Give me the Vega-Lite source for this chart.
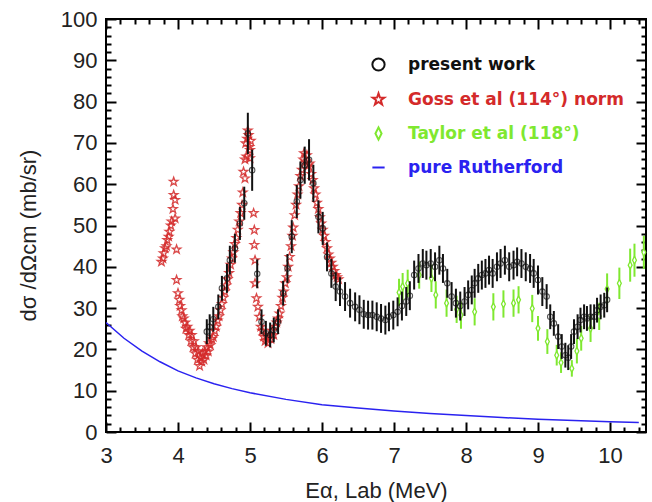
{
  "$schema": "https://vega.github.io/schema/vega-lite/v6.json",
  "autosize": {"type": "none"},
  "width": 540,
  "height": 413,
  "padding": {"left": 106, "top": 19, "right": 6, "bottom": 70},
  "background": "white",
  "config": {
    "view": {"stroke": "black", "strokeWidth": 2},
    "font": "Liberation Sans",
    "axis": {"domain": false, "grid": false, "tickColor": "black", "tickWidth": 2, "labelColor": "#222", "titleColor": "#222"}
  },
  "datasets": {
    "pw": [
      {"s": "present work", "E": 4.40, "v": 24.3, "e": 3},
      {"s": "present work", "E": 4.44, "v": 25.5, "e": 3},
      {"s": "present work", "E": 4.49, "v": 27.3, "e": 3},
      {"s": "present work", "E": 4.56, "v": 30.3, "e": 3},
      {"s": "present work", "E": 4.61, "v": 34.8, "e": 3},
      {"s": "present work", "E": 4.68, "v": 37.2, "e": 3.5},
      {"s": "present work", "E": 4.72, "v": 41.6, "e": 3.5},
      {"s": "present work", "E": 4.79, "v": 44.5, "e": 3.5},
      {"s": "present work", "E": 4.86, "v": 50.5, "e": 4},
      {"s": "present work", "E": 4.92, "v": 55.4, "e": 4},
      {"s": "present work", "E": 4.97, "v": 72.3, "e": 5},
      {"s": "present work", "E": 5.03, "v": 63.4, "e": 5},
      {"s": "present work", "E": 5.10, "v": 38.3, "e": 3.5},
      {"s": "present work", "E": 5.16, "v": 26.7, "e": 3},
      {"s": "present work", "E": 5.22, "v": 23.9, "e": 3},
      {"s": "present work", "E": 5.28, "v": 23.5, "e": 3},
      {"s": "present work", "E": 5.33, "v": 24.7, "e": 3},
      {"s": "present work", "E": 5.39, "v": 26.7, "e": 3},
      {"s": "present work", "E": 5.46, "v": 33.6, "e": 3},
      {"s": "present work", "E": 5.52, "v": 39.6, "e": 3.5},
      {"s": "present work", "E": 5.58, "v": 47.3, "e": 4},
      {"s": "present work", "E": 5.65, "v": 55.8, "e": 4},
      {"s": "present work", "E": 5.70, "v": 61.0, "e": 4.5},
      {"s": "present work", "E": 5.76, "v": 64.6, "e": 4.5},
      {"s": "present work", "E": 5.82, "v": 65.9, "e": 5},
      {"s": "present work", "E": 5.88, "v": 60.2, "e": 4.5},
      {"s": "present work", "E": 5.95, "v": 52.1, "e": 4},
      {"s": "present work", "E": 6.01, "v": 49.3, "e": 4},
      {"s": "present work", "E": 6.07, "v": 42.4, "e": 3.5},
      {"s": "present work", "E": 6.13, "v": 38.4, "e": 3.5},
      {"s": "present work", "E": 6.19, "v": 35.2, "e": 3.5},
      {"s": "present work", "E": 6.25, "v": 34.0, "e": 3.5},
      {"s": "present work", "E": 6.32, "v": 32.8, "e": 3.5},
      {"s": "present work", "E": 6.39, "v": 31.2, "e": 3.5},
      {"s": "present work", "E": 6.46, "v": 30.3, "e": 3.5},
      {"s": "present work", "E": 6.52, "v": 29.6, "e": 3.5},
      {"s": "present work", "E": 6.58, "v": 28.5, "e": 3.5},
      {"s": "present work", "E": 6.64, "v": 28.3, "e": 3.5},
      {"s": "present work", "E": 6.70, "v": 28.3, "e": 3.5},
      {"s": "present work", "E": 6.76, "v": 27.9, "e": 3.5},
      {"s": "present work", "E": 6.82, "v": 27.5, "e": 3.5},
      {"s": "present work", "E": 6.88, "v": 27.1, "e": 3.5},
      {"s": "present work", "E": 6.93, "v": 27.9, "e": 3.5},
      {"s": "present work", "E": 6.99, "v": 28.3, "e": 3.5},
      {"s": "present work", "E": 7.05, "v": 29.1, "e": 3.5},
      {"s": "present work", "E": 7.11, "v": 30.5, "e": 3.5},
      {"s": "present work", "E": 7.17, "v": 31.6, "e": 3.5},
      {"s": "present work", "E": 7.22, "v": 33.0, "e": 3.5},
      {"s": "present work", "E": 7.28, "v": 38.0, "e": 3.5},
      {"s": "present work", "E": 7.34, "v": 39.6, "e": 3.5},
      {"s": "present work", "E": 7.40, "v": 40.8, "e": 3.5},
      {"s": "present work", "E": 7.45, "v": 40.4, "e": 3.5},
      {"s": "present work", "E": 7.51, "v": 40.8, "e": 3.5},
      {"s": "present work", "E": 7.57, "v": 40.0, "e": 3.5},
      {"s": "present work", "E": 7.63, "v": 41.6, "e": 3.5},
      {"s": "present work", "E": 7.68, "v": 39.6, "e": 3.5},
      {"s": "present work", "E": 7.74, "v": 36.0, "e": 3.5},
      {"s": "present work", "E": 7.80, "v": 32.8, "e": 3.5},
      {"s": "present work", "E": 7.86, "v": 31.2, "e": 3.5},
      {"s": "present work", "E": 7.92, "v": 30.5, "e": 3.5},
      {"s": "present work", "E": 7.98, "v": 31.6, "e": 3.5},
      {"s": "present work", "E": 8.03, "v": 33.2, "e": 3.5},
      {"s": "present work", "E": 8.08, "v": 34.4, "e": 3.5},
      {"s": "present work", "E": 8.12, "v": 36.0, "e": 3.5},
      {"s": "present work", "E": 8.17, "v": 37.2, "e": 3.5},
      {"s": "present work", "E": 8.22, "v": 38.0, "e": 3.5},
      {"s": "present work", "E": 8.27, "v": 38.4, "e": 3.5},
      {"s": "present work", "E": 8.32, "v": 39.2, "e": 3.5},
      {"s": "present work", "E": 8.37, "v": 38.4, "e": 3.5},
      {"s": "present work", "E": 8.43, "v": 40.0, "e": 3.5},
      {"s": "present work", "E": 8.48, "v": 40.8, "e": 3.5},
      {"s": "present work", "E": 8.54, "v": 41.6, "e": 3.5},
      {"s": "present work", "E": 8.60, "v": 40.0, "e": 3.5},
      {"s": "present work", "E": 8.66, "v": 40.4, "e": 3.5},
      {"s": "present work", "E": 8.71, "v": 41.2, "e": 3.5},
      {"s": "present work", "E": 8.77, "v": 40.8, "e": 3.5},
      {"s": "present work", "E": 8.83, "v": 40.0, "e": 3.5},
      {"s": "present work", "E": 8.89, "v": 39.6, "e": 3.5},
      {"s": "present work", "E": 8.94, "v": 38.4, "e": 3.5},
      {"s": "present work", "E": 9.00, "v": 36.8, "e": 3.5},
      {"s": "present work", "E": 9.06, "v": 34.0, "e": 3.5},
      {"s": "present work", "E": 9.12, "v": 32.8, "e": 3},
      {"s": "present work", "E": 9.17, "v": 27.9, "e": 3},
      {"s": "present work", "E": 9.22, "v": 26.3, "e": 3},
      {"s": "present work", "E": 9.28, "v": 23.1, "e": 3},
      {"s": "present work", "E": 9.33, "v": 20.7, "e": 3},
      {"s": "present work", "E": 9.38, "v": 18.6, "e": 3},
      {"s": "present work", "E": 9.42, "v": 18.0, "e": 3},
      {"s": "present work", "E": 9.46, "v": 20.7, "e": 3},
      {"s": "present work", "E": 9.50, "v": 24.3, "e": 3},
      {"s": "present work", "E": 9.55, "v": 25.5, "e": 3},
      {"s": "present work", "E": 9.59, "v": 27.1, "e": 3},
      {"s": "present work", "E": 9.64, "v": 27.9, "e": 3},
      {"s": "present work", "E": 9.68, "v": 27.5, "e": 3},
      {"s": "present work", "E": 9.73, "v": 27.9, "e": 3},
      {"s": "present work", "E": 9.78, "v": 27.9, "e": 3},
      {"s": "present work", "E": 9.82, "v": 29.5, "e": 3},
      {"s": "present work", "E": 9.87, "v": 30.3, "e": 3},
      {"s": "present work", "E": 9.92, "v": 30.7, "e": 3},
      {"s": "present work", "E": 9.96, "v": 32.0, "e": 3}
    ],
    "goss": [
      {"s": "Goss et al (114°) norm", "E": 3.77, "v": 41.2},
      {"s": "Goss et al (114°) norm", "E": 3.79, "v": 42.0},
      {"s": "Goss et al (114°) norm", "E": 3.80, "v": 43.3},
      {"s": "Goss et al (114°) norm", "E": 3.82, "v": 44.5},
      {"s": "Goss et al (114°) norm", "E": 3.84, "v": 45.0},
      {"s": "Goss et al (114°) norm", "E": 3.85, "v": 46.5},
      {"s": "Goss et al (114°) norm", "E": 3.87, "v": 47.3},
      {"s": "Goss et al (114°) norm", "E": 3.88, "v": 48.5},
      {"s": "Goss et al (114°) norm", "E": 3.90, "v": 50.0},
      {"s": "Goss et al (114°) norm", "E": 3.91, "v": 51.0},
      {"s": "Goss et al (114°) norm", "E": 3.93, "v": 54.0},
      {"s": "Goss et al (114°) norm", "E": 3.94, "v": 57.4},
      {"s": "Goss et al (114°) norm", "E": 3.94, "v": 60.6},
      {"s": "Goss et al (114°) norm", "E": 3.96, "v": 56.2},
      {"s": "Goss et al (114°) norm", "E": 3.96, "v": 51.7},
      {"s": "Goss et al (114°) norm", "E": 3.98, "v": 44.2},
      {"s": "Goss et al (114°) norm", "E": 3.98, "v": 36.8},
      {"s": "Goss et al (114°) norm", "E": 4.00, "v": 33.6},
      {"s": "Goss et al (114°) norm", "E": 4.02, "v": 32.0},
      {"s": "Goss et al (114°) norm", "E": 4.03, "v": 30.5},
      {"s": "Goss et al (114°) norm", "E": 4.05, "v": 29.5},
      {"s": "Goss et al (114°) norm", "E": 4.06, "v": 28.0},
      {"s": "Goss et al (114°) norm", "E": 4.08, "v": 27.5},
      {"s": "Goss et al (114°) norm", "E": 4.10, "v": 26.5},
      {"s": "Goss et al (114°) norm", "E": 4.11, "v": 25.0},
      {"s": "Goss et al (114°) norm", "E": 4.13, "v": 25.5},
      {"s": "Goss et al (114°) norm", "E": 4.15, "v": 23.5},
      {"s": "Goss et al (114°) norm", "E": 4.16, "v": 24.5},
      {"s": "Goss et al (114°) norm", "E": 4.18, "v": 22.0},
      {"s": "Goss et al (114°) norm", "E": 4.19, "v": 23.5},
      {"s": "Goss et al (114°) norm", "E": 4.21, "v": 20.5},
      {"s": "Goss et al (114°) norm", "E": 4.22, "v": 22.0},
      {"s": "Goss et al (114°) norm", "E": 4.24, "v": 19.0},
      {"s": "Goss et al (114°) norm", "E": 4.25, "v": 20.5},
      {"s": "Goss et al (114°) norm", "E": 4.27, "v": 17.5},
      {"s": "Goss et al (114°) norm", "E": 4.28, "v": 19.5},
      {"s": "Goss et al (114°) norm", "E": 4.30, "v": 16.0},
      {"s": "Goss et al (114°) norm", "E": 4.31, "v": 18.0},
      {"s": "Goss et al (114°) norm", "E": 4.33, "v": 17.0},
      {"s": "Goss et al (114°) norm", "E": 4.34, "v": 19.0},
      {"s": "Goss et al (114°) norm", "E": 4.36, "v": 17.5},
      {"s": "Goss et al (114°) norm", "E": 4.37, "v": 19.5},
      {"s": "Goss et al (114°) norm", "E": 4.39, "v": 18.5},
      {"s": "Goss et al (114°) norm", "E": 4.40, "v": 20.5},
      {"s": "Goss et al (114°) norm", "E": 4.42, "v": 19.5},
      {"s": "Goss et al (114°) norm", "E": 4.43, "v": 21.5},
      {"s": "Goss et al (114°) norm", "E": 4.45, "v": 21.0},
      {"s": "Goss et al (114°) norm", "E": 4.47, "v": 22.5},
      {"s": "Goss et al (114°) norm", "E": 4.49, "v": 23.0},
      {"s": "Goss et al (114°) norm", "E": 4.51, "v": 24.5},
      {"s": "Goss et al (114°) norm", "E": 4.53, "v": 25.5},
      {"s": "Goss et al (114°) norm", "E": 4.55, "v": 27.0},
      {"s": "Goss et al (114°) norm", "E": 4.57, "v": 28.0},
      {"s": "Goss et al (114°) norm", "E": 4.59, "v": 29.5},
      {"s": "Goss et al (114°) norm", "E": 4.61, "v": 31.0},
      {"s": "Goss et al (114°) norm", "E": 4.63, "v": 32.5},
      {"s": "Goss et al (114°) norm", "E": 4.65, "v": 34.0},
      {"s": "Goss et al (114°) norm", "E": 4.67, "v": 35.5},
      {"s": "Goss et al (114°) norm", "E": 4.69, "v": 37.0},
      {"s": "Goss et al (114°) norm", "E": 4.71, "v": 38.5},
      {"s": "Goss et al (114°) norm", "E": 4.73, "v": 40.5},
      {"s": "Goss et al (114°) norm", "E": 4.75, "v": 42.0},
      {"s": "Goss et al (114°) norm", "E": 4.77, "v": 43.5},
      {"s": "Goss et al (114°) norm", "E": 4.79, "v": 45.5},
      {"s": "Goss et al (114°) norm", "E": 4.81, "v": 47.0},
      {"s": "Goss et al (114°) norm", "E": 4.83, "v": 49.0},
      {"s": "Goss et al (114°) norm", "E": 4.85, "v": 51.0},
      {"s": "Goss et al (114°) norm", "E": 4.87, "v": 53.0},
      {"s": "Goss et al (114°) norm", "E": 4.89, "v": 55.0},
      {"s": "Goss et al (114°) norm", "E": 4.90, "v": 58.0},
      {"s": "Goss et al (114°) norm", "E": 4.91, "v": 63.0},
      {"s": "Goss et al (114°) norm", "E": 4.93, "v": 61.4},
      {"s": "Goss et al (114°) norm", "E": 4.93, "v": 66.0},
      {"s": "Goss et al (114°) norm", "E": 4.94, "v": 69.9},
      {"s": "Goss et al (114°) norm", "E": 4.95, "v": 66.7},
      {"s": "Goss et al (114°) norm", "E": 4.96, "v": 71.0},
      {"s": "Goss et al (114°) norm", "E": 4.97, "v": 73.0},
      {"s": "Goss et al (114°) norm", "E": 4.98, "v": 71.9},
      {"s": "Goss et al (114°) norm", "E": 4.99, "v": 69.0},
      {"s": "Goss et al (114°) norm", "E": 5.00, "v": 68.3},
      {"s": "Goss et al (114°) norm", "E": 5.00, "v": 66.3},
      {"s": "Goss et al (114°) norm", "E": 5.01, "v": 70.5},
      {"s": "Goss et al (114°) norm", "E": 5.05, "v": 53.0},
      {"s": "Goss et al (114°) norm", "E": 5.06, "v": 48.9},
      {"s": "Goss et al (114°) norm", "E": 5.06, "v": 45.3},
      {"s": "Goss et al (114°) norm", "E": 5.07, "v": 41.6},
      {"s": "Goss et al (114°) norm", "E": 5.07, "v": 36.0},
      {"s": "Goss et al (114°) norm", "E": 5.09, "v": 32.4},
      {"s": "Goss et al (114°) norm", "E": 5.11, "v": 30.3},
      {"s": "Goss et al (114°) norm", "E": 5.13, "v": 27.9},
      {"s": "Goss et al (114°) norm", "E": 5.15, "v": 25.5},
      {"s": "Goss et al (114°) norm", "E": 5.17, "v": 24.5},
      {"s": "Goss et al (114°) norm", "E": 5.19, "v": 23.1},
      {"s": "Goss et al (114°) norm", "E": 5.21, "v": 22.0},
      {"s": "Goss et al (114°) norm", "E": 5.23, "v": 23.0},
      {"s": "Goss et al (114°) norm", "E": 5.25, "v": 21.5},
      {"s": "Goss et al (114°) norm", "E": 5.27, "v": 23.5},
      {"s": "Goss et al (114°) norm", "E": 5.29, "v": 22.5},
      {"s": "Goss et al (114°) norm", "E": 5.31, "v": 24.5},
      {"s": "Goss et al (114°) norm", "E": 5.33, "v": 23.5},
      {"s": "Goss et al (114°) norm", "E": 5.35, "v": 25.5},
      {"s": "Goss et al (114°) norm", "E": 5.37, "v": 26.5},
      {"s": "Goss et al (114°) norm", "E": 5.39, "v": 27.5},
      {"s": "Goss et al (114°) norm", "E": 5.41, "v": 28.7},
      {"s": "Goss et al (114°) norm", "E": 5.43, "v": 30.5},
      {"s": "Goss et al (114°) norm", "E": 5.45, "v": 32.5},
      {"s": "Goss et al (114°) norm", "E": 5.47, "v": 34.0},
      {"s": "Goss et al (114°) norm", "E": 5.49, "v": 36.0},
      {"s": "Goss et al (114°) norm", "E": 5.51, "v": 37.5},
      {"s": "Goss et al (114°) norm", "E": 5.53, "v": 40.0},
      {"s": "Goss et al (114°) norm", "E": 5.55, "v": 42.4},
      {"s": "Goss et al (114°) norm", "E": 5.57, "v": 45.0},
      {"s": "Goss et al (114°) norm", "E": 5.59, "v": 47.5},
      {"s": "Goss et al (114°) norm", "E": 5.60, "v": 49.5},
      {"s": "Goss et al (114°) norm", "E": 5.62, "v": 52.5},
      {"s": "Goss et al (114°) norm", "E": 5.64, "v": 55.0},
      {"s": "Goss et al (114°) norm", "E": 5.66, "v": 57.5},
      {"s": "Goss et al (114°) norm", "E": 5.68, "v": 59.5},
      {"s": "Goss et al (114°) norm", "E": 5.70, "v": 62.0},
      {"s": "Goss et al (114°) norm", "E": 5.72, "v": 63.5},
      {"s": "Goss et al (114°) norm", "E": 5.74, "v": 66.0},
      {"s": "Goss et al (114°) norm", "E": 5.75, "v": 67.5},
      {"s": "Goss et al (114°) norm", "E": 5.77, "v": 65.5},
      {"s": "Goss et al (114°) norm", "E": 5.79, "v": 67.0},
      {"s": "Goss et al (114°) norm", "E": 5.81, "v": 64.5},
      {"s": "Goss et al (114°) norm", "E": 5.83, "v": 65.0},
      {"s": "Goss et al (114°) norm", "E": 5.85, "v": 62.5},
      {"s": "Goss et al (114°) norm", "E": 5.87, "v": 61.0},
      {"s": "Goss et al (114°) norm", "E": 5.89, "v": 59.0},
      {"s": "Goss et al (114°) norm", "E": 5.91, "v": 57.5},
      {"s": "Goss et al (114°) norm", "E": 5.93, "v": 55.5},
      {"s": "Goss et al (114°) norm", "E": 5.95, "v": 54.0},
      {"s": "Goss et al (114°) norm", "E": 5.97, "v": 52.0},
      {"s": "Goss et al (114°) norm", "E": 5.99, "v": 50.5},
      {"s": "Goss et al (114°) norm", "E": 6.01, "v": 49.0},
      {"s": "Goss et al (114°) norm", "E": 6.03, "v": 47.5},
      {"s": "Goss et al (114°) norm", "E": 6.05, "v": 46.0},
      {"s": "Goss et al (114°) norm", "E": 6.07, "v": 44.5},
      {"s": "Goss et al (114°) norm", "E": 6.09, "v": 43.0},
      {"s": "Goss et al (114°) norm", "E": 6.11, "v": 42.0},
      {"s": "Goss et al (114°) norm", "E": 6.13, "v": 41.0},
      {"s": "Goss et al (114°) norm", "E": 6.15, "v": 40.0},
      {"s": "Goss et al (114°) norm", "E": 6.17, "v": 39.0},
      {"s": "Goss et al (114°) norm", "E": 6.19, "v": 38.0},
      {"s": "Goss et al (114°) norm", "E": 6.21, "v": 37.5},
      {"s": "Goss et al (114°) norm", "E": 6.23, "v": 37.0}
    ],
    "taylor": [
      {"s": "Taylor et al (118°)", "E": 7.07, "v": 33.8, "e": 3.3},
      {"s": "Taylor et al (118°)", "E": 7.12, "v": 35.2, "e": 3.3},
      {"s": "Taylor et al (118°)", "E": 7.19, "v": 36.0, "e": 3.3},
      {"s": "Taylor et al (118°)", "E": 7.35, "v": 38.0, "e": 3.3},
      {"s": "Taylor et al (118°)", "E": 7.52, "v": 37.2, "e": 3.3},
      {"s": "Taylor et al (118°)", "E": 7.58, "v": 33.2, "e": 3.3},
      {"s": "Taylor et al (118°)", "E": 7.73, "v": 31.2, "e": 3.3},
      {"s": "Taylor et al (118°)", "E": 7.87, "v": 29.7, "e": 3.3},
      {"s": "Taylor et al (118°)", "E": 7.93, "v": 28.3, "e": 3.3},
      {"s": "Taylor et al (118°)", "E": 8.12, "v": 29.1, "e": 3.3},
      {"s": "Taylor et al (118°)", "E": 8.38, "v": 30.3, "e": 3.3},
      {"s": "Taylor et al (118°)", "E": 8.52, "v": 31.0, "e": 3.3},
      {"s": "Taylor et al (118°)", "E": 8.66, "v": 31.2, "e": 3.3},
      {"s": "Taylor et al (118°)", "E": 8.73, "v": 32.0, "e": 3.3},
      {"s": "Taylor et al (118°)", "E": 8.92, "v": 29.9, "e": 3.3},
      {"s": "Taylor et al (118°)", "E": 9.00, "v": 25.1, "e": 3.0},
      {"s": "Taylor et al (118°)", "E": 9.13, "v": 21.9, "e": 3.0},
      {"s": "Taylor et al (118°)", "E": 9.26, "v": 18.6, "e": 2.5},
      {"s": "Taylor et al (118°)", "E": 9.32, "v": 16.8, "e": 2.5},
      {"s": "Taylor et al (118°)", "E": 9.47, "v": 15.4, "e": 2.0},
      {"s": "Taylor et al (118°)", "E": 9.54, "v": 19.6, "e": 3.0},
      {"s": "Taylor et al (118°)", "E": 9.60, "v": 22.7, "e": 3.0},
      {"s": "Taylor et al (118°)", "E": 9.73, "v": 25.1, "e": 3.3},
      {"s": "Taylor et al (118°)", "E": 9.85, "v": 28.0, "e": 3.3},
      {"s": "Taylor et al (118°)", "E": 9.96, "v": 34.6, "e": 3.8},
      {"s": "Taylor et al (118°)", "E": 10.13, "v": 36.0, "e": 3.8},
      {"s": "Taylor et al (118°)", "E": 10.28, "v": 40.4, "e": 4.0},
      {"s": "Taylor et al (118°)", "E": 10.34, "v": 41.6, "e": 4.0},
      {"s": "Taylor et al (118°)", "E": 10.47, "v": 43.5, "e": 4.0}
    ],
    "ruth": [
      {"s": "pure Rutherford", "E": 3.0, "v": 26.5},
      {"s": "pure Rutherford", "E": 3.25, "v": 22.7},
      {"s": "pure Rutherford", "E": 3.5, "v": 19.6},
      {"s": "pure Rutherford", "E": 3.75, "v": 17.0},
      {"s": "pure Rutherford", "E": 4.0, "v": 14.8},
      {"s": "pure Rutherford", "E": 4.25, "v": 13.1},
      {"s": "pure Rutherford", "E": 4.5, "v": 11.7},
      {"s": "pure Rutherford", "E": 4.75, "v": 10.5},
      {"s": "pure Rutherford", "E": 5.0, "v": 9.5},
      {"s": "pure Rutherford", "E": 5.5, "v": 7.9},
      {"s": "pure Rutherford", "E": 6.0, "v": 6.6},
      {"s": "pure Rutherford", "E": 6.5, "v": 5.8},
      {"s": "pure Rutherford", "E": 7.0, "v": 5.1},
      {"s": "pure Rutherford", "E": 7.5, "v": 4.5},
      {"s": "pure Rutherford", "E": 8.0, "v": 4.0},
      {"s": "pure Rutherford", "E": 8.5, "v": 3.5},
      {"s": "pure Rutherford", "E": 9.0, "v": 3.1},
      {"s": "pure Rutherford", "E": 9.5, "v": 2.8},
      {"s": "pure Rutherford", "E": 10.0, "v": 2.5},
      {"s": "pure Rutherford", "E": 10.4, "v": 2.3}
    ]
  },
  "resolve": {"axis": {"x": "independent", "y": "independent"}},
  "layer": [
    {
      "data": {"name": "ruth"},
      "mark": {"type": "line", "strokeWidth": 1.5, "clip": true},
      "encoding": {
        "x": {"field": "E", "type": "quantitative", "scale": {"domain": [3, 10.5], "nice": false, "zero": false},
          "axis": {"orient": "top", "values": [3,3.2,3.4,3.6,3.8,4,4.2,4.4,4.6,4.8,5,5.2,5.4,5.6,5.8,6,6.2,6.4,6.6,6.8,7,7.2,7.4,7.6,7.8,8,8.2,8.4,8.6,8.8,9,9.2,9.4,9.6,9.8,10,10.2,10.4], "labels": false, "title": null,
            "tickSize": {"expr": "abs(datum.value - round(datum.value)) < 0.01 ? -10 : -5"}}},
        "y": {"field": "v", "type": "quantitative", "scale": {"domain": [0, 100], "nice": false},
          "axis": {"orient": "right", "values": [0,2,4,6,8,10,12,14,16,18,20,22,24,26,28,30,32,34,36,38,40,42,44,46,48,50,52,54,56,58,60,62,64,66,68,70,72,74,76,78,80,82,84,86,88,90,92,94,96,98,100], "labels": false, "title": null,
            "tickSize": {"expr": "datum.value % 10 === 0 ? -10 : -5"}}},
        "color": {"field": "s", "type": "nominal",
          "scale": {"domain": ["present work", "Goss et al (114°) norm", "Taylor et al (118°)", "pure Rutherford"], "range": ["#111111", "#d42a2a", "#7fe830", "#2a22f0"]},
          "legend": {"title": null, "orient": "none", "legendX": 264, "legendY": 37, "padding": 0, "rowPadding": 14, "labelOffset": 21, "labelFont": "DejaVu Sans", "labelFontSize": 17, "labelFontWeight": 600, "symbolSize": 150, "symbolStrokeWidth": 2, "labelLimit": 400,
            "encode": {"labels": {"update": {"fill": {"scale": "color", "field": "value"}}},
                       "symbols": {"update": {"fill": {"value": "transparent"}, "stroke": {"scale": "color", "field": "value"}}}}}}
      }
    },
    {
      "data": {"name": "goss"},
      "mark": {"type": "point", "filled": false, "strokeWidth": 1.3, "size": 80, "opacity": 0.85},
      "encoding": {
        "x": {"field": "E", "type": "quantitative", "axis": null},
        "y": {"field": "v", "type": "quantitative", "axis": null},
        "color": {"field": "s", "type": "nominal"},
        "shape": {"field": "s", "type": "nominal",
          "scale": {"domain": ["present work", "Goss et al (114°) norm", "Taylor et al (118°)", "pure Rutherford"], "range": ["circle", "M0,-1L0.235,-0.324L0.951,-0.309L0.380,0.124L0.588,0.809L0,0.4L-0.588,0.809L-0.380,0.124L-0.951,-0.309L-0.235,-0.324Z", "M0,-1L0.5,0L0,1L-0.5,0Z", "stroke"]}}
      }
    },
    {
      "data": {"name": "taylor"},
      "mark": {"type": "errorbar", "color": "#7fe830", "thickness": 2},
      "encoding": {
        "x": {"field": "E", "type": "quantitative", "axis": null},
        "y": {"field": "v", "type": "quantitative", "axis": null},
        "yError": {"field": "e"}
      }
    },
    {
      "data": {"name": "taylor"},
      "mark": {"type": "point", "filled": false, "fill": "white", "fillOpacity": 1, "strokeWidth": 1.3, "size": 60},
      "encoding": {
        "x": {"field": "E", "type": "quantitative", "axis": null},
        "y": {"field": "v", "type": "quantitative", "axis": null},
        "color": {"field": "s", "type": "nominal"},
        "shape": {"field": "s", "type": "nominal"}
      }
    },
    {
      "data": {"name": "pw"},
      "mark": {"type": "errorbar", "color": "#111111", "thickness": 2},
      "encoding": {
        "x": {"field": "E", "type": "quantitative", "axis": null},
        "y": {"field": "v", "type": "quantitative", "axis": null},
        "yError": {"field": "e"}
      }
    },
    {
      "data": {"name": "pw"},
      "mark": {"type": "point", "filled": false, "strokeWidth": 1.1, "size": 30},
      "encoding": {
        "x": {"field": "E", "type": "quantitative",
          "axis": {"orient": "bottom", "values": [3,3.2,3.4,3.6,3.8,4,4.2,4.4,4.6,4.8,5,5.2,5.4,5.6,5.8,6,6.2,6.4,6.6,6.8,7,7.2,7.4,7.6,7.8,8,8.2,8.4,8.6,8.8,9,9.2,9.4,9.6,9.8,10,10.2,10.4],
            "labelExpr": "datum.value % 1 === 0 ? format(datum.value, 'd') : ''", "labelFontSize": 22, "labelPadding": 23, "labelFlush": false,
            "tickSize": {"expr": "abs(datum.value - round(datum.value)) < 0.01 ? -10 : -5"},
            "title": "Eα, Lab  (MeV)", "titleFontSize": 22, "titleFontWeight": "normal", "titlePadding": 14}},
        "y": {"field": "v", "type": "quantitative",
          "axis": {"orient": "left", "values": [0,2,4,6,8,10,12,14,16,18,20,22,24,26,28,30,32,34,36,38,40,42,44,46,48,50,52,54,56,58,60,62,64,66,68,70,72,74,76,78,80,82,84,86,88,90,92,94,96,98,100],
            "labelExpr": "datum.value % 10 === 0 ? datum.label : ''", "labelFontSize": 22, "labelPadding": 19,
            "tickSize": {"expr": "datum.value % 10 === 0 ? -10 : -5"},
            "title": "dσ /dΩcm  (mb/sr)", "titleFontSize": 22, "titleFontWeight": "normal", "titlePadding": 20, "titleY": 216}},
        "color": {"field": "s", "type": "nominal"},
        "shape": {"field": "s", "type": "nominal"}
      }
    },
    {
      "mark": {"type": "rect", "fill": "white", "stroke": "black", "strokeWidth": 1.5},
      "encoding": {
        "x": {"datum": 3.32, "type": "quantitative", "axis": null},
        "x2": {"datum": 4.40},
        "y": {"datum": 85.0, "type": "quantitative", "axis": null},
        "y2": {"datum": 93.9}
      }
    },
    {
      "mark": {"type": "text", "fontSize": 28, "font": "Liberation Sans", "color": "#222"},
      "encoding": {
        "x": {"datum": 3.86, "type": "quantitative", "axis": null},
        "y": {"datum": 89.4, "type": "quantitative", "axis": null},
        "text": {"value": "110°"}
      }
    }
  ]
}
